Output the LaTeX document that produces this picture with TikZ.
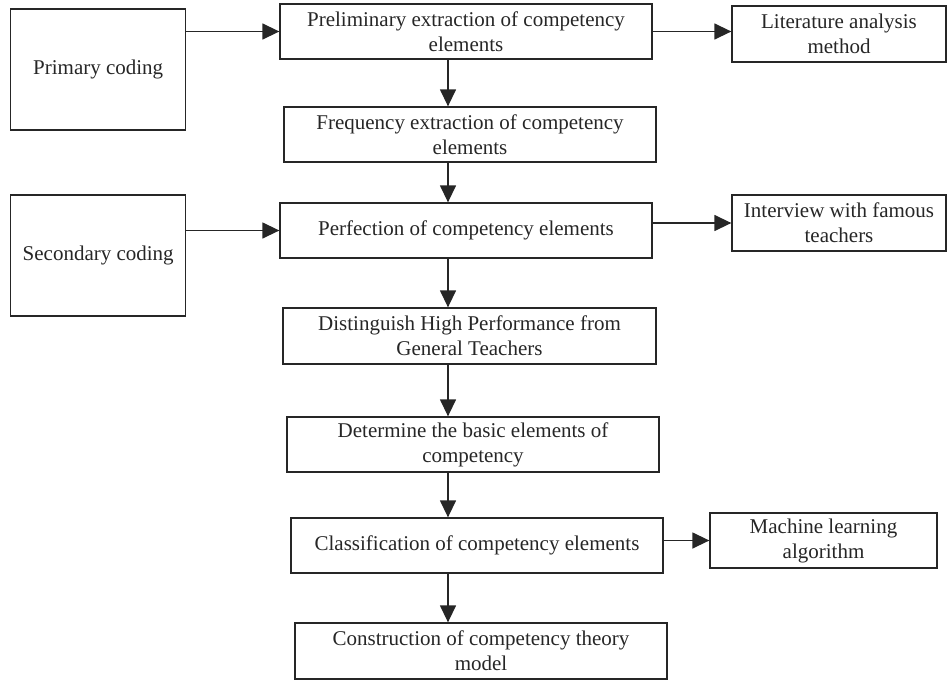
\documentclass[tikz,border=0pt]{standalone}
\usepackage{fontspec}
\setmainfont{Liberation Serif}
\usetikzlibrary{arrows.meta}

\tikzset{
  stagebox/.style={draw, line width=1.3pt, inner sep=0pt, align=center,
    font=\fontsize{21}{25}\selectfont},
  flow/.style={line width=1.4pt, -{Triangle[length=17pt,width=16pt]}}
}

\begin{document}
\begin{tikzpicture}[x=1pt,y=-1pt, color=black!85]
    \useasboundingbox (0,0) rectangle (948,680);

    % coding stages
    \node[stagebox, minimum width=175pt, minimum height=121pt] (prim) at (98.2,69.5) {Primary coding};
    \node[stagebox, minimum width=175pt, minimum height=121pt] (sec) at (98.2,255.5) {Secondary coding};

    % main column
    \node[stagebox, minimum width=372pt, minimum height=55pt] (prelim) at (466,31.5) {Preliminary extraction of competency\\elements};
    \node[stagebox, minimum width=372pt, minimum height=55pt] (freq) at (470,134.5) {Frequency extraction of competency\\elements};
    \node[stagebox, minimum width=372pt, minimum height=55pt] (perf) at (466,230.5) {Perfection of competency elements};
    \node[stagebox, minimum width=373pt, minimum height=56pt] (dist) at (469.5,336) {Distinguish High Performance from\\General Teachers};
    \node[stagebox, minimum width=372pt, minimum height=55pt] (det) at (473,444.5) {Determine the basic elements of\\competency};
    \node[stagebox, minimum width=372pt, minimum height=55pt] (cls) at (477,545.5) {Classification of competency elements};
    \node[stagebox, minimum width=372pt, minimum height=56pt] (cons) at (481,651) {Construction of competency theory\\model};

    % methods
    \node[stagebox, minimum width=214pt, minimum height=56pt] (lit) at (839,34) {Literature analysis\\method};
    \node[stagebox, minimum width=214pt, minimum height=56pt] (inter) at (839,223) {Interview with famous\\teachers};
    \node[stagebox, minimum width=227pt, minimum height=55pt] (ml) at (823.5,540.5) {Machine learning\\algorithm};

    % vertical flow
    \coordinate (spine) at (448,0);
    \draw[flow] (prelim.south -| spine) -- (freq.north -| spine);
    \draw[flow] (freq.south -| spine) -- (perf.north -| spine);
    \draw[flow] (perf.south -| spine) -- (dist.north -| spine);
    \draw[flow] (dist.south -| spine) -- (det.north -| spine);
    \draw[flow] (det.south -| spine) -- (cls.north -| spine);
    \draw[flow] (cls.south -| spine) -- (cons.north -| spine);

    % side arrows
    \draw[flow] (prim.east |- prelim.west) -- (prelim.west);
    \draw[flow] (sec.east |- perf.west) -- (perf.west);
    \draw[flow] (prelim.east) -- (prelim.east -| lit.west);
    \draw[flow] (perf.east |- inter.west) -- (inter.west);
    \draw[flow] (cls.east |- ml.west) -- (ml.west);
\end{tikzpicture}
\end{document}
